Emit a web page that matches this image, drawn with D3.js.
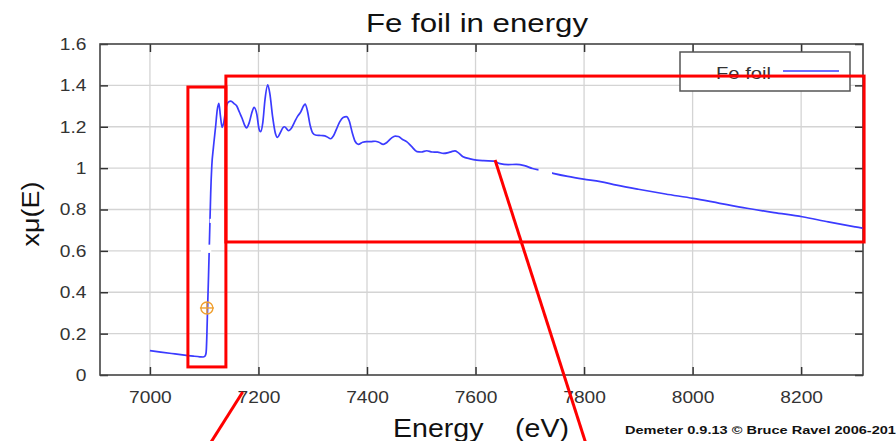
<!DOCTYPE html>
<html>
<head>
<meta charset="utf-8">
<script src="https://cdn.jsdelivr.net/npm/d3@7"></script>
<style>
  html, body { margin: 0; padding: 0; background: #fff; }
  svg { display: block; font-family: "Liberation Sans", Arial, sans-serif; }
</style>
</head>
<body>
<svg id="chart" width="896" height="441"></svg>
<script>
// Fe K-edge absorption spectrum (normalised xmu vs energy)
const energy = [
  7000, 7020, 7040, 7060, 7080, 7092, 7098, 7101, 7103, 7104, 7105, 7106, 7108,
  7110, 7112, 7114, 7117, 7121, 7124, 7127, 7130, 7133, 7136, 7140, 7145, 7149,
  7155, 7160, 7165, 7170, 7175, 7178, 7183, 7188, 7192, 7197, 7201, 7204, 7208,
  7212, 7217, 7221, 7226, 7231, 7235, 7240, 7245, 7248, 7252, 7255, 7260, 7266,
  7272, 7278, 7283, 7286, 7290, 7295, 7300, 7305, 7312, 7319, 7326, 7333, 7338,
  7344, 7350, 7356, 7362, 7367, 7373, 7378, 7384, 7392, 7399, 7407, 7415, 7422,
  7430, 7437, 7445, 7452, 7458, 7465, 7473, 7482, 7492, 7500, 7510, 7520, 7530,
  7541, 7550, 7556, 7562, 7568, 7577, 7590, 7602, 7615, 7633, 7645, 7660, 7675,
  7690, 7705, 7720, 7743, 7770, 7799, 7830, 7860, 7900, 7950, 8001, 8050, 8100,
  8150, 8202, 8250, 8300, 8315
];
const xmu = [
  0.118, 0.111, 0.104, 0.097, 0.091, 0.088, 0.087, 0.090, 0.100, 0.125, 0.200, 0.300, 0.480,
  0.680, 0.880, 1.010, 1.100, 1.200, 1.280, 1.313, 1.250, 1.197, 1.220, 1.290, 1.320, 1.324,
  1.312, 1.300, 1.270, 1.240, 1.205, 1.195, 1.220, 1.270, 1.294, 1.260, 1.190, 1.176, 1.220,
  1.330, 1.402, 1.360, 1.250, 1.170, 1.149, 1.170, 1.195, 1.200, 1.190, 1.181, 1.190, 1.220,
  1.250, 1.272, 1.300, 1.310, 1.280, 1.210, 1.170, 1.160, 1.158, 1.157, 1.152, 1.142, 1.155,
  1.190, 1.225, 1.245, 1.249, 1.230, 1.170, 1.130, 1.115, 1.125, 1.128, 1.128, 1.130, 1.125,
  1.115, 1.125, 1.145, 1.155, 1.153, 1.140, 1.128, 1.105, 1.080, 1.078, 1.084, 1.078, 1.077,
  1.071, 1.075, 1.080, 1.083, 1.075, 1.055, 1.045, 1.039, 1.036, 1.034, 1.022, 1.017, 1.018,
  1.012, 0.998, 0.990, 0.975, 0.960, 0.947, 0.935, 0.918, 0.898, 0.875, 0.854, 0.830, 0.806,
  0.785, 0.765, 0.740, 0.716, 0.709
];

// Edge energy marker
const e0Point = [7105, 0.324];

// Axis ticks
const xTicks = [7000, 7200, 7400, 7600, 7800, 8000, 8200];
const yTicks = [0, 0.2, 0.4, 0.6, 0.8, 1, 1.2, 1.4, 1.6];

// Highlight boxes and leader lines, in data units [E0, E1, mu0, mu1]
const edgeBox = [7070, 7140, 0.039, 1.392];
const exafsBox = [7140, 8316, 0.643, 1.445];
const leaders = [
  [7636, 1.039, 7813, -0.41],
  [7171, -0.082, 7092, -0.41]
];
// Small blanked stretches of the trace, [E0, E1, mu0, mu1]
const blanks = [
  [7094, 7113, 0.590, 0.630],
  [7110, 7113, 0.735, 0.755],
  [7716, 7741, 0.962, 0.996]
];

const svg = d3.select("#chart");
const L = 100, R = 863, T = 44, B = 375;
const x = d3.scaleLinear().domain([6908, 8314]).range([L, R]);
const y = d3.scaleLinear().domain([0, 1.6]).range([B, T]);
const stretch = "scale(1.13,1)";
const fmtY = d => d === 0 ? "0" : (d === 1 ? "1" : d3.format(".1f")(d));

// grid
const grid = svg.append("g").attr("stroke", "#d4d4d4").attr("stroke-width", 1.3);
grid.selectAll("line.gx").data(xTicks).join("line")
  .attr("x1", d => x(d)).attr("x2", d => x(d)).attr("y1", T).attr("y2", B);
grid.selectAll("line.gy").data(yTicks.slice(1, -1)).join("line")
  .attr("x1", L).attr("x2", R).attr("y1", d => y(d)).attr("y2", d => y(d));

// axes with inward ticks
function styleAxis(g) {
  g.select(".domain").remove();
  g.selectAll(".tick line").attr("stroke", "#333").attr("stroke-width", 1.5);
  g.selectAll(".tick text").attr("fill", "#333").attr("font-size", 17)
    .attr("font-family", "Liberation Sans, Arial, sans-serif");
}
const ax = svg.append("g").attr("transform", `translate(0,${B})`)
  .call(d3.axisBottom(x).tickValues(xTicks).tickSize(-8).tickPadding(12).tickFormat(d3.format("d")));
styleAxis(ax);
ax.selectAll(".tick text").attr("transform", stretch).attr("dy", "0.95em");
const axTop = svg.append("g").attr("transform", `translate(0,${T})`)
  .call(d3.axisTop(x).tickValues(xTicks).tickSize(-8).tickFormat(""));
styleAxis(axTop);
const ay = svg.append("g").attr("transform", `translate(${L},0)`)
  .call(d3.axisLeft(y).tickValues(yTicks).tickSize(-8).tickPadding(12).tickFormat(fmtY));
styleAxis(ay);
ay.selectAll(".tick text").attr("transform", stretch);
const ayR = svg.append("g").attr("transform", `translate(${R},0)`)
  .call(d3.axisRight(y).tickValues(yTicks).tickSize(-8).tickFormat(""));
styleAxis(ayR);

// frame
svg.append("rect").attr("x", L).attr("y", T).attr("width", R - L).attr("height", B - T)
  .attr("fill", "none").attr("stroke", "#444").attr("stroke-width", 1.6);

// spectrum
const data = energy.map((e, i) => [e, xmu[i]]);
const line = d3.line().x(d => x(d[0])).y(d => y(d[1])).curve(d3.curveMonotoneX);
svg.append("path").datum(data).attr("d", line)
  .attr("fill", "none").attr("stroke", "#3b3bff").attr("stroke-width", 1.7)
  .attr("stroke-linejoin", "round");

svg.selectAll("rect.blank").data(blanks).join("rect").attr("class", "blank")
  .attr("x", d => x(d[0])).attr("width", d => x(d[1]) - x(d[0]))
  .attr("y", d => y(d[3])).attr("height", d => y(d[2]) - y(d[3]))
  .attr("fill", "#fff");

// E0 marker
const mk = svg.append("g").attr("stroke", "#f0a030").attr("stroke-width", 1.4).attr("fill", "none");
mk.append("circle").attr("cx", x(e0Point[0])).attr("cy", y(e0Point[1])).attr("r", 6);
mk.append("line").attr("x1", x(e0Point[0]) - 7).attr("x2", x(e0Point[0]) + 7)
  .attr("y1", y(e0Point[1])).attr("y2", y(e0Point[1]));
mk.append("line").attr("x1", x(e0Point[0])).attr("x2", x(e0Point[0]))
  .attr("y1", y(e0Point[1]) - 6).attr("y2", y(e0Point[1]) + 6);

// legend
const lg = svg.append("g");
lg.append("rect").attr("x", 680).attr("y", 52).attr("width", 170).attr("height", 39)
  .attr("fill", "#fff").attr("stroke", "#555").attr("stroke-width", 1.5);
lg.append("text").attr("x", 771).attr("y", 79).attr("text-anchor", "end")
  .attr("font-size", 17).attr("fill", "#333").attr("textLength", 55)
  .attr("lengthAdjust", "spacingAndGlyphs").text("Fe foil");
lg.append("line").attr("x1", 783).attr("x2", 839).attr("y1", 71).attr("y2", 71)
  .attr("stroke", "#3b3bff").attr("stroke-width", 1.7);

// titles
svg.append("text").attr("x", 366).attr("y", 32).attr("font-size", 26).attr("fill", "#111")
  .attr("textLength", 222).attr("lengthAdjust", "spacingAndGlyphs").text("Fe foil in energy");
svg.append("text").attr("x", 393).attr("y", 437).attr("font-size", 25).attr("fill", "#111")
  .attr("textLength", 176).attr("lengthAdjust", "spacingAndGlyphs").text("Energy    (eV)")
  .attr("xml:space", "preserve").style("white-space", "pre");
svg.append("text").attr("transform", "translate(39,214) rotate(-90)")
  .attr("text-anchor", "middle").attr("font-size", 23).attr("fill", "#111")
  .attr("textLength", 65).attr("lengthAdjust", "spacingAndGlyphs").text("xμ(E)");
svg.append("text").attr("x", 625).attr("y", 434).attr("font-size", 11).attr("font-weight", "bold")
  .attr("fill", "#111").attr("textLength", 279).attr("lengthAdjust", "spacingAndGlyphs")
  .text("Demeter 0.9.13 © Bruce Ravel 2006-2012");

// highlight annotations
const red = svg.append("g").attr("stroke", "#ff0000").attr("stroke-width", 3).attr("fill", "none");
[edgeBox, exafsBox].forEach(b => {
  red.append("rect").attr("x", x(b[0])).attr("y", y(b[3]))
    .attr("width", x(b[1]) - x(b[0])).attr("height", y(b[2]) - y(b[3]));
});
red.selectAll("line").data(leaders).join("line")
  .attr("x1", d => x(d[0])).attr("y1", d => y(d[1]))
  .attr("x2", d => x(d[2])).attr("y2", d => y(d[3]));
</script>
</body>
</html>
